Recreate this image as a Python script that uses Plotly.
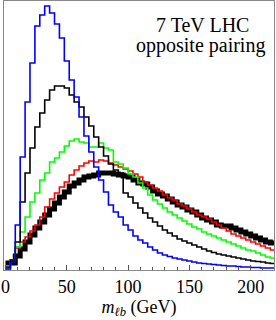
import plotly.graph_objects as go

# bin edges (GeV), 4 GeV bins from 0 to 220
bin_width = 4
n_bins = 55
edges = [i * bin_width for i in range(n_bins + 1)]

# arbitrary units
thick_black = [7, 7, 14, 21, 28, 35, 42, 48, 55, 61, 67, 73, 78, 84, 87, 90, 93, 94, 95, 97,
               97, 97, 96, 95, 94, 93, 90, 87, 86, 83, 79, 76, 74, 71, 68, 65, 63, 60, 58, 55,
               52, 50, 48, 45, 44, 44, 42, 40, 38, 36, 34, 32, 30, 28, 27]
red = [2, 10, 22, 28, 33, 39, 45, 53, 63, 71, 77, 83, 88, 95, 100, 104, 107, 109, 108, 110,
       109, 107, 105, 103, 101, 99, 96, 93, 88, 85, 82, 79, 75, 72, 70, 66, 64, 61, 58, 55,
       53, 51, 48, 45, 42, 39, 36, 34, 32, 30, 28, 26, 24, 22, 20]
green = [1, 10, 23, 38, 53, 68, 77, 90, 97, 108, 112, 118, 124, 129, 131, 128, 127, 123, 123, 127,
         122, 120, 108, 106, 102, 96, 93, 87, 82, 75, 70, 66, 62, 58, 55, 52, 49, 46, 43, 41,
         38, 36, 34, 32, 30, 28, 26, 24, 22, 20, 19, 17, 15, 13, 12]
black_thin = [3, 10, 28, 68, 97, 122, 143, 157, 170, 180, 184, 184, 182, 175, 168, 163, 153, 144, 133, 123,
              114, 106, 100, 97, 77, 73, 67, 62, 57, 52, 48, 44, 40, 37, 34, 31, 29, 27, 25, 23,
              21, 19, 17.5, 16, 15, 14, 13, 12, 11, 10, 9, 8.5, 8, 7, 6.5]
blue = [1, 8, 45, 113, 168, 207, 244, 255, 264, 257, 246, 232, 209, 190, 173, 153, 134, 118, 103, 90,
        78, 65, 58, 53, 45, 40, 34, 30, 27, 23, 20, 17, 15, 13.5, 12, 11, 10, 9, 8, 7,
        6.5, 6, 5.5, 5, 4.5, 4, 4, 3.5, 3, 3, 2.5, 2.5, 2, 2, 2]

series = [
    (thick_black, "black", 5),
    (red, "#ff0000", 1.6),
    (green, "#00ff00", 1.6),
    (black_thin, "black", 1.6),
    (blue, "#0000ff", 1.6),
]

fig = go.Figure()
for vals, col, w in series:
    fig.add_trace(go.Scatter(
        x=edges, y=list(vals) + [vals[-1]],
        mode="lines", line=dict(color=col, width=w, shape="hv"),
        showlegend=False, hoverinfo="skip"))

serif = "Liberation Serif"
fig.update_layout(
    width=276, height=320,
    margin=dict(l=4, r=2, t=1, b=50, autoexpand=False),
    paper_bgcolor="white", plot_bgcolor="white",
    font=dict(family=serif, color="black", size=18),
)
fig.update_xaxes(
    range=[-1.2, 219], showgrid=False, zeroline=False, automargin=False,
    showline=True, linecolor="#888888", linewidth=1, mirror=True,
    tickmode="array", tickvals=[0, 50, 100, 150, 200],
    ticks="inside", ticklen=5, tickcolor="#555555",
    minor=dict(ticks="inside", dtick=10, ticklen=3, tickcolor="#555555"),
    tickfont=dict(family=serif, size=18),
    title=dict(text="<i>m</i><sub><i>ℓb</i></sub> (GeV)", font=dict(family=serif, size=18), standoff=2),
)
fig.update_yaxes(
    range=[0, 269], showgrid=False, zeroline=False, automargin=False,
    showline=True, linecolor="#888888", linewidth=1, mirror=True,
    showticklabels=False, ticks="",
)
fig.add_annotation(text="7 TeV LHC", xref="paper", yref="paper", x=0.737, y=0.911,
                   xanchor="center", yanchor="middle", showarrow=False,
                   font=dict(family=serif, size=20))
fig.add_annotation(text="opposite pairing", xref="paper", yref="paper", x=0.726, y=0.836,
                   xanchor="center", yanchor="middle", showarrow=False,
                   font=dict(family=serif, size=20))
fig.write_html("out.html", config={"displayModeBar": False},
               post_script="document.body.style.margin='0';")
